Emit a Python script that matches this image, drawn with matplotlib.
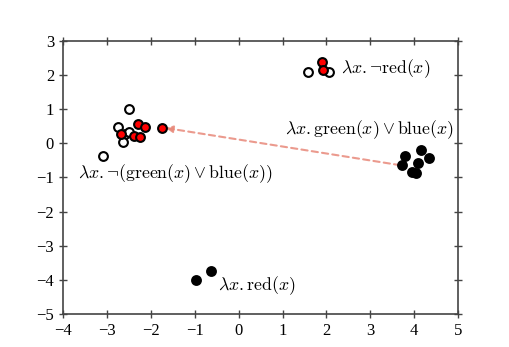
import matplotlib
matplotlib.use("Agg")
import matplotlib.pyplot as plt
import numpy as np

plt.rcParams['font.family'] = 'serif'
plt.rcParams['font.serif'] = ['Liberation Serif', 'DejaVu Serif']
plt.rcParams['mathtext.fontset'] = 'cm'

# white (open) points
white_x = [-2.49, -2.76, -2.58, -2.50, -2.64, -3.10, 1.57, 2.05]
white_y = [1.00, 0.47, 0.26, 0.32, 0.03, -0.36, 2.08, 2.09]
# red points
red_x = [-2.30, -2.13, -1.75, -2.68, -2.38, -2.24, 1.89, 1.92]
red_y = [0.56, 0.49, 0.46, 0.26, 0.21, 0.19, 2.38, 2.16]
# black points
black_x = [3.80, 4.15, 4.33, 3.73, 4.08, 3.95, 4.04, -0.98, -0.64]
black_y = [-0.36, -0.20, -0.42, -0.62, -0.59, -0.83, -0.88, -4.01, -3.74]

labels = [r'$\lambda x.\neg\mathrm{red}(x)$',
          r'$\lambda x.\mathrm{green}(x) \vee \mathrm{blue}(x)$',
          r'$\lambda x.\neg(\mathrm{green}(x) \vee \mathrm{blue}(x))$',
          r'$\lambda x.\mathrm{red}(x)$']
label_x = [2.34, 4.90, -3.66, -0.48]
label_y = [2.2, 0.39, -0.9, -4.16]
label_ha = ['left', 'right', 'left', 'left']

arrow_from = (3.68, -0.64)
arrow_to = (-1.66, 0.45)

fig = plt.figure(figsize=(5.09, 3.47), dpi=100)
ax = fig.add_axes([0.124, 0.095, 0.776, 0.787])

ax.annotate('', xy=arrow_to, xytext=arrow_from,
            arrowprops=dict(arrowstyle='-|>', color='#e8897a', lw=1.5, alpha=0.85,
                            linestyle=(0, (3, 2)), mutation_scale=10,
                            shrinkA=0, shrinkB=0))

ax.scatter(white_x, white_y, s=40, facecolor='white', edgecolor='black', linewidth=1.5, zorder=3)
ax.scatter(red_x, red_y, s=40, facecolor='red', edgecolor='black', linewidth=1.5, zorder=3)
ax.scatter(black_x, black_y, s=40, facecolor='black', edgecolor='black', linewidth=1.5, zorder=3)

for t, x, y, ha in zip(labels, label_x, label_y, label_ha):
    ax.text(x, y, t, ha=ha, va='center', fontsize=12.8)

ax.set_xlim(-4, 5)
ax.set_ylim(-5, 3)
ax.set_xticks(np.arange(-4, 6, 1))
ax.set_yticks(np.arange(-5, 4, 1))
ax.tick_params(direction='inout', length=6, width=1, colors='#444444',
               labelcolor='black', labelsize=12, top=True, right=True)
for s in ax.spines.values():
    s.set_color('#444444')
    s.set_linewidth(1.2)

fig.savefig('out.png', dpi=100)
